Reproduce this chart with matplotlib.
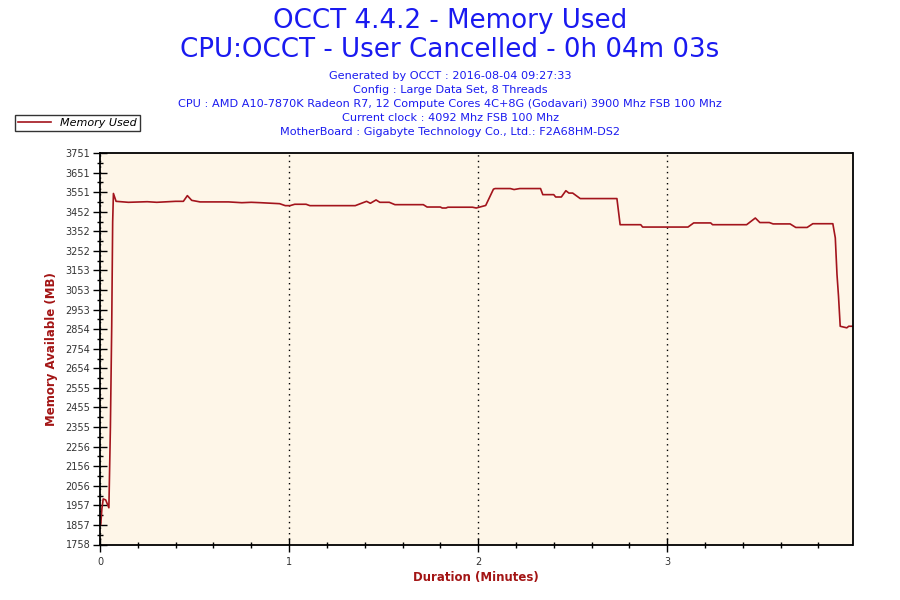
import matplotlib
matplotlib.use("Agg")
import matplotlib.pyplot as plt
import numpy as np
from matplotlib.ticker import MultipleLocator

# ---- data ----
minutes = [0.004, 0.010, 0.017, 0.030, 0.047, 0.055, 0.062, 0.067, 0.071, 0.085,
           0.15, 0.25, 0.30, 0.40, 0.441, 0.462, 0.485, 0.529, 0.68, 0.75, 0.80,
           0.85, 0.95, 0.98, 1.005, 1.03, 1.09, 1.11, 1.35, 1.41, 1.43, 1.46,
           1.48, 1.53, 1.56, 1.71, 1.73, 1.80, 1.81, 1.83, 1.84, 1.97, 1.99,
           2.04, 2.081, 2.09, 2.17, 2.19, 2.22, 2.33, 2.342, 2.40, 2.41, 2.44,
           2.464, 2.48, 2.50, 2.54, 2.725, 2.734, 2.751, 2.86, 2.87, 3.0, 3.11,
           3.14, 3.23, 3.24, 3.42, 3.466, 3.49, 3.54, 3.56, 3.65, 3.68, 3.74,
           3.77, 3.876, 3.889, 3.898, 3.906, 3.915, 3.95, 3.96, 3.98]
memory = [1860, 1940, 1990, 1985, 1945, 2355, 2870, 3400, 3545, 3505,
          3500, 3503, 3500, 3505, 3505, 3534, 3510, 3502, 3502, 3498, 3500,
          3498, 3493, 3483, 3483, 3490, 3490, 3483, 3483, 3505, 3495, 3512,
          3500, 3500, 3488, 3488, 3476, 3476, 3471, 3471, 3475, 3475, 3471,
          3484, 3567, 3570, 3570, 3565, 3570, 3570, 3539, 3539, 3527, 3527,
          3559, 3547, 3547, 3519, 3519, 3519, 3386, 3386, 3374, 3374, 3374,
          3395, 3395, 3386, 3386, 3420, 3397, 3397, 3390, 3390, 3372, 3372,
          3391, 3391, 3319, 3132, 3022, 2869, 2861, 2869, 2869]

ytick_labels = ["1758", "1857", "1957", "2056", "2156", "2256", "2355", "2455",
                "2555", "2654", "2754", "2854", "2953", "3053", "3153", "3252",
                "3352", "3452", "3551", "3651", "3751"]
xtick_labels = ["0", "1", "2", "3"]

title1 = "OCCT 4.4.2 - Memory Used"
title2 = "CPU:OCCT - User Cancelled - 0h 04m 03s"
info_lines = ["Generated by OCCT : 2016-08-04 09:27:33",
              "Config : Large Data Set, 8 Threads",
              "CPU : AMD A10-7870K Radeon R7, 12 Compute Cores 4C+8G (Godavari) 3900 Mhz FSB 100 Mhz",
              "Current clock : 4092 Mhz FSB 100 Mhz",
              "MotherBoard : Gigabyte Technology Co., Ltd.: F2A68HM-DS2"]

# ---- styling ----
W, H = 900, 600
fig = plt.figure(figsize=(9, 6), dpi=100)
fig.patch.set_facecolor("white")

left, right, top, bottom = 100, 852.5, 153, 544.5
ax = fig.add_axes([left / W, 1 - bottom / H, (right - left) / W, (bottom - top) / H])
ax.set_facecolor("#FEF6E8")

line_color = "#A3141C"
label_color = "#A31515"
blue = "#1A1AF0"

ax.plot(minutes, memory, color=line_color, lw=1.2, label="Memory Used")

ymin, ymax = 1758, 3751
ax.set_ylim(ymin, ymax)
ax.set_xlim(0, 3.98)
yt = np.linspace(ymin, ymax, len(ytick_labels))
ax.set_yticks(yt)
ax.set_yticklabels(ytick_labels)
ax.set_yticks((yt[:-1] + yt[1:]) / 2, minor=True)
ax.set_xticks(range(len(xtick_labels)))
ax.set_xticklabels(xtick_labels)
ax.xaxis.set_minor_locator(MultipleLocator(0.2))

for s in ax.spines.values():
    s.set_linewidth(1.3)
    s.set_color("black")

ax.tick_params(axis="both", which="major", direction="inout", length=10, width=1,
               labelsize=7, labelcolor="#333333")
ax.tick_params(axis="both", which="minor", direction="inout", length=5, width=1)
ax.tick_params(axis="y", which="major", pad=2)
ax.tick_params(axis="x", which="major", pad=4)

ax.grid(axis="x", which="major", color="black", linestyle=(0, (1, 3)), lw=1)

ax.set_ylabel("Memory Available (MB)", color=label_color, fontsize=8.5,
              fontweight="bold", labelpad=5)
ax.set_xlabel("Duration (Minutes)", color=label_color, fontsize=8.5,
              fontweight="bold", labelpad=3)

fig.text(0.5, 1 - 21 / H, title1, ha="center", va="center", fontsize=18.8, color=blue)
fig.text(0.5, 1 - 50 / H, title2, ha="center", va="center", fontsize=18.8, color=blue)
for i, s in enumerate(info_lines):
    fig.text(0.5, 1 - (76 + 14 * i) / H, s, ha="center", va="center",
             fontsize=8.1, color=blue)

leg = fig.legend(loc="upper left", bbox_to_anchor=(15 / W, 1 - 115 / H),
                 frameon=True, fancybox=False, edgecolor="black",
                 prop={"style": "italic", "size": 8}, handlelength=3,
                 borderpad=0.25, borderaxespad=0, handletextpad=0.8)
leg.get_frame().set_linewidth(1)

fig.savefig("out.png", dpi=100)
